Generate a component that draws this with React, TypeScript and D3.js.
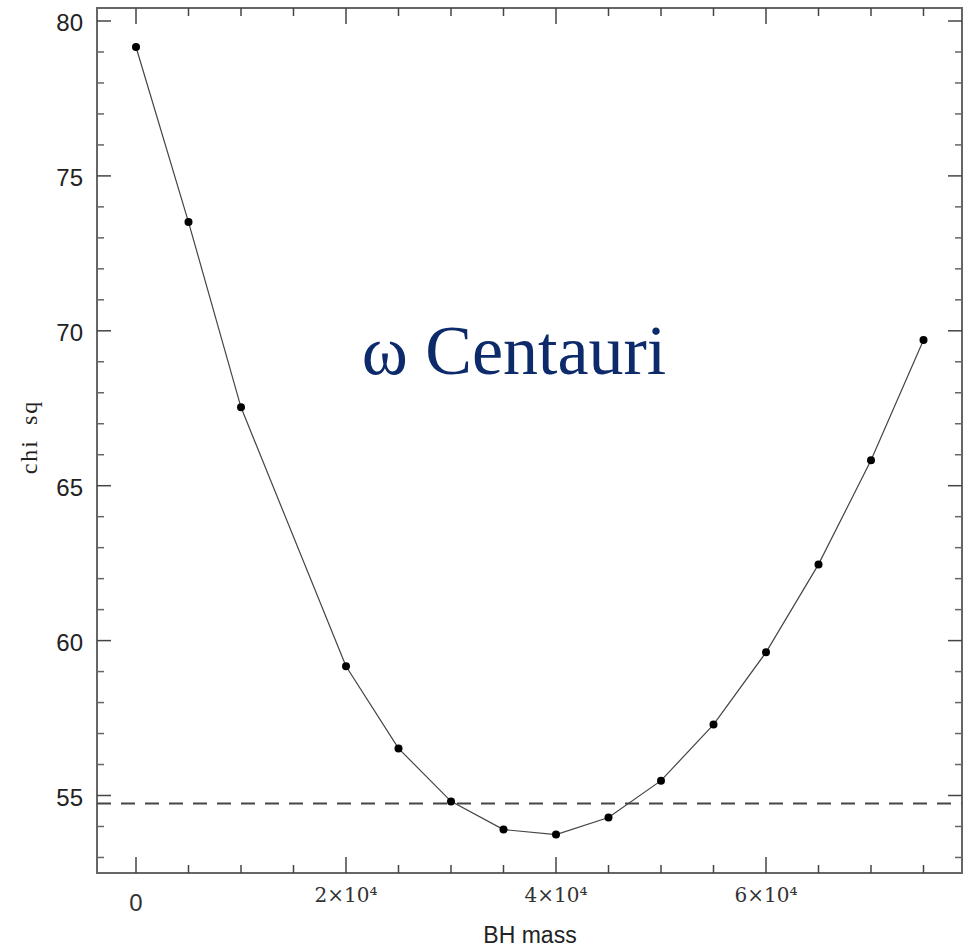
import React from "react";
import * as d3 from "d3";

const bhMass = [0, 5000, 10000, 20000, 25000, 30000, 35000, 40000, 45000, 50000, 55000, 60000, 65000, 70000, 75000];
const chiSq = [79.16, 73.51, 67.53, 59.17, 56.52, 54.81, 53.9, 53.74, 54.29, 55.48, 57.29, 59.62, 62.46, 65.82, 69.7];
const thresholdValue = [54.74];
const yTickValues = [55, 60, 65, 70, 75, 80];
const xMajorTicks = [0, 20000, 40000, 60000];
const xMajorLabels = ["0", "2×10⁴", "4×10⁴", "6×10⁴"];
const titleText = "ω Centauri";
const xLabel = "BH mass";
const yLabel = "chi sq";

export default function App() {
  const W = 963, H = 947;
  const left = 97, right = 962, top = 8, bottom = 873;
  const x = d3.scaleLinear().domain([0, 60000]).range([136, 766]);
  const y = d3.scaleLinear().domain([55, 80]).range([795.5, 21]);
  const xMinor = d3.range(-0, 80000, 5000).filter((v) => x(v) > left && x(v) < right && !xMajorTicks.includes(v));
  const yMinor = d3.range(53, 81, 1).filter((v) => y(v) > top && y(v) < bottom && !yTickValues.includes(v));
  const line = d3.line<number>().x((_, i) => x(bhMass[i])).y((d) => y(d));
  const axisColor = "#666";
  return (
    <svg width={W} height={H} style={{ position: "absolute", left: 0, top: 0, background: "#fff" }}>
      <rect x={left} y={top} width={right - left} height={bottom - top} fill="none" stroke={axisColor} strokeWidth={2} />
      {xMajorTicks.map((v) => (
        <g key={"xM" + v}>
          <line x1={x(v)} x2={x(v)} y1={bottom} y2={bottom - 16} stroke="#444" strokeWidth={1.5} />
          <line x1={x(v)} x2={x(v)} y1={top} y2={top + 16} stroke="#444" strokeWidth={1.5} />
        </g>
      ))}
      {xMinor.map((v) => (
        <g key={"xm" + v}>
          <line x1={x(v)} x2={x(v)} y1={bottom} y2={bottom - 8} stroke="#444" strokeWidth={1.5} />
          <line x1={x(v)} x2={x(v)} y1={top} y2={top + 8} stroke="#444" strokeWidth={1.5} />
        </g>
      ))}
      {yTickValues.map((v) => (
        <g key={"yM" + v}>
          <line x1={left} x2={left + 14} y1={y(v)} y2={y(v)} stroke="#444" strokeWidth={1.5} />
          <line x1={right} x2={right - 14} y1={y(v)} y2={y(v)} stroke="#444" strokeWidth={1.5} />
          <text x={83} y={y(v) + 10} textAnchor="end" fontFamily="Liberation Sans, Arial, sans-serif" fontSize={24} fill="#222">{v}</text>
        </g>
      ))}
      {yMinor.map((v) => (
        <g key={"ym" + v}>
          <line x1={left} x2={left + 7} y1={y(v)} y2={y(v)} stroke="#666" strokeWidth={1.5} />
          <line x1={right} x2={right - 7} y1={y(v)} y2={y(v)} stroke="#666" strokeWidth={1.5} />
        </g>
      ))}
      {xMajorTicks.map((v, i) => (
        <text key={"xl" + v} x={x(v)} y={i === 0 ? 911 : 902} textAnchor="middle"
          fontFamily={i === 0 ? "Liberation Sans, Arial, sans-serif" : "DejaVu Serif, serif"}
          fontSize={i === 0 ? 24 : 20} fill="#333">{xMajorLabels[i]}</text>
      ))}
      <text x={530} y={943} textAnchor="middle" fontFamily="Liberation Sans, Arial, sans-serif" fontSize={23} fill="#222">{xLabel}</text>
      <text transform={`translate(37,437) rotate(-90)`} textAnchor="middle" fontFamily="Liberation Serif, Times New Roman, serif" fontSize={24} letterSpacing={2} wordSpacing={6} fill="#222">{yLabel}</text>
      {thresholdValue.map((v) => (
        <line key="thr" x1={left} x2={right} y1={y(v)} y2={y(v)} stroke="#444" strokeWidth={2} strokeDasharray="14,10" />
      ))}
      <path d={line(chiSq) || ""} fill="none" stroke="#444" strokeWidth={1.2} />
      {chiSq.map((v, i) => (
        <circle key={"p" + i} cx={x(bhMass[i])} cy={y(v)} r={4} fill="#000" />
      ))}
      <text x={514} y={374} textAnchor="middle" fontFamily="Liberation Serif, Times New Roman, serif" fontSize={70} fill="#0d2a6b">{titleText}</text>
    </svg>
  );
}
